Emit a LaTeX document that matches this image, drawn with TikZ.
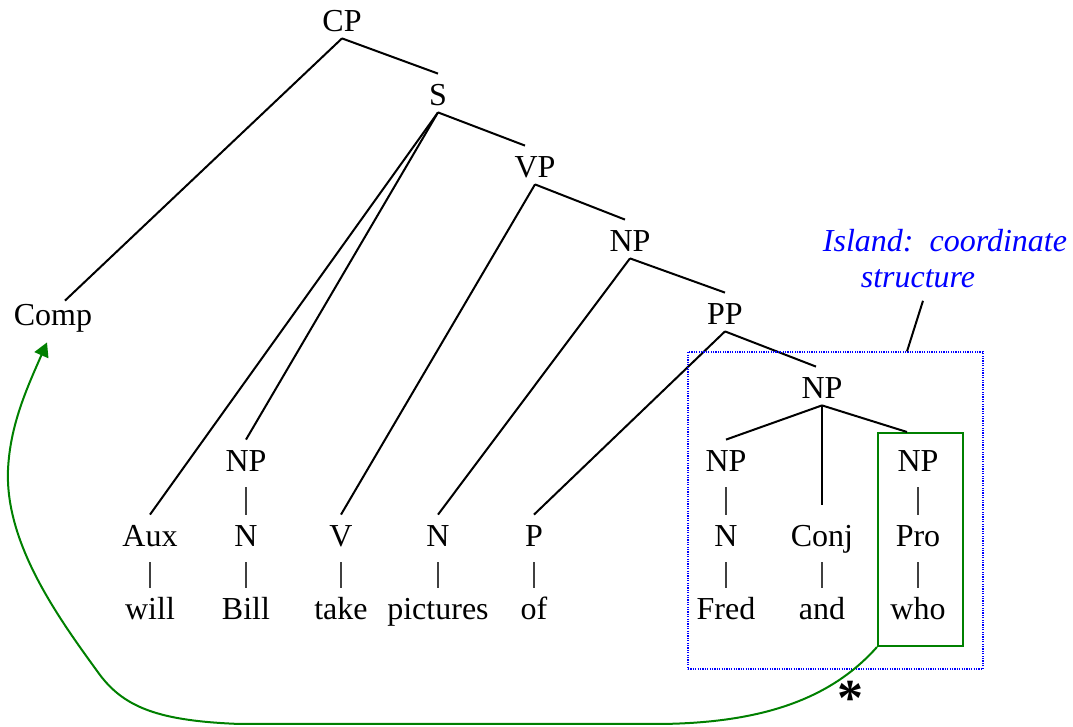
\documentclass[tikz,border=0pt]{standalone}
\usepackage{fontspec}
\setmainfont{Liberation Serif}
\usepackage{tikz}
\usetikzlibrary{arrows.meta}
\definecolor{islandblue}{HTML}{0000FF}
\definecolor{movegreen}{HTML}{008000}

\begin{document}
\begin{tikzpicture}[x=0.5pt, y=-0.5pt,
    cat/.style={anchor=base, font=\fontsize{16}{19}\selectfont,
                text height=13pt, text depth=0pt, inner xsep=2pt, inner ysep=3pt},
    br/.style={line width=1pt},
    bar/.style={line width=0.6pt, black!75, shorten <=4.5pt},
    isl/.style={anchor=base, font=\fontsize{16}{19}\selectfont\itshape,
                text=islandblue, inner sep=0pt},
    islandbox/.style={draw=islandblue, line width=0.6pt, dash pattern=on 0.6pt off 0.6pt,
                      inner sep=0pt, minimum width=147.5pt, minimum height=158.5pt},
    movebox/.style={draw=movegreen, line width=1pt, inner sep=0pt,
                    minimum width=42.5pt, minimum height=106.5pt},
    move/.style={-{Triangle[length=7pt,width=7.5pt]}, line width=1pt, movegreen}
  ]
  \useasboundingbox (0,0) rectangle (1073,727);

  \node[cat] (cp)   at (342,32)  {CP};
  \node[cat] (s)    at (438,106) {S};
  \node[cat] (vp)   at (535,178) {VP};
  \node[cat] (np1)  at (630,252) {NP};
  \node[cat] (pp)   at (725,325) {PP};
  \node[cat] (np2)  at (822,399) {NP};
  \node[cat] (comp) at (53,326)  {Comp};

  \node[cat] (npb)  at (246,472) {NP};
  \node[cat] (npf)  at (726,472) {NP};
  \node[cat] (npw)  at (918,472) {NP};

  \node[cat] (aux)  at (150,547) {Aux};
  \node[cat] (nb)   at (246,547) {N};
  \node[cat] (v)    at (341,547) {V};
  \node[cat] (npic) at (438,547) {N};
  \node[cat] (p)    at (534,547) {P};
  \node[cat] (nf)   at (726,547) {N};
  \node[cat] (conj) at (822,547) {Conj};
  \node[cat] (pro)  at (918,547) {Pro};

  \node[cat] (will) at (150,620) {will};
  \node[cat] (bill) at (246,620) {Bill};
  \node[cat] (take) at (341,620) {take};
  \node[cat] (pics) at (438,620) {pictures};
  \node[cat] (of)   at (534,620) {of};
  \node[cat] (fred) at (726,620) {Fred};
  \node[cat] (and)  at (822,620) {and};
  \node[cat] (who)  at (918,620) {who};

  % branches
  \draw[br] (cp.south) -- ([xshift=6pt,yshift=-3.5pt]comp.north);
  \draw[br] (cp.south) -- (s.north);
  \draw[br] (s.south) -- (aux.north);
  \draw[br] (s.south) -- (npb.north);
  \draw[br] (s.south) -- ([xshift=-5pt]vp.north);
  \draw[br] (vp.south) -- (v.north);
  \draw[br] (vp.south) -- ([xshift=-2.5pt]np1.north);
  \draw[br] (np1.south) -- (npic.north);
  \draw[br] (np1.south) -- (pp.north);
  \draw[br] (pp.south) -- (p.north);
  \draw[br] (pp.south) -- ([xshift=-3pt]np2.north);
  \draw[br] (np2.south) -- (npf.north);
  \draw[br, shorten >=5pt] (np2.south) -- (conj.north);

  \foreach \up/\down in {npb/nb, aux/will, nb/bill, v/take, npic/pics, p/of,
                         npf/nf, nf/fred, conj/and, npw/pro, pro/who}
    \draw[bar] (\up.south) -- (\down.north);

  % island and moved item
  \node[islandbox] (island) at (835.5,510.5) {};
  \node[movebox] (gbox) at (920.5,539.5) {};
  \draw[br] (np2.south) -- ([xshift=-6.75pt]gbox.north);

  \node[isl] (isla) at (945,252) {Island:\ \ coordinate};
  \node[isl] (islb) at (918,288) {structure};
  \draw[br] ([xshift=2.5pt,yshift=-6pt]islb.south) -- ([xshift=35.75pt]island.north);

  \draw[move] (gbox.south west) .. controls (830,700) and (760,723) .. (660,724)
    -- (240,724) .. controls (160,721) and (125,708) .. (100,675)
    .. controls (60,620) and (5,545) .. (8,470)
    .. controls (10,425) and (27,388) .. ([xshift=-3pt,yshift=-5pt]comp.south);

  \node[font=\fontsize{26}{30}\selectfont\bfseries, inner sep=0pt] (star) at (850,698) {*};
\end{tikzpicture}
\end{document}
